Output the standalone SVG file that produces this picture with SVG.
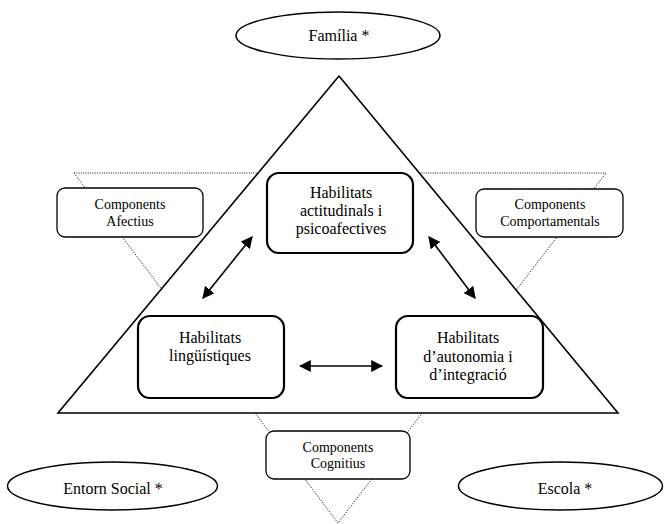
<svg xmlns="http://www.w3.org/2000/svg" width="664" height="524" viewBox="0 0 664 524">
<defs>
<style>
text{font-family:"Liberation Serif","Times New Roman",serif;fill:#000;text-anchor:middle}
.big{font-size:16px}
.small{font-size:14px}
.ell{fill:#fff;stroke:#000;stroke-width:1.5}
.hab{fill:#fff;stroke:#000;stroke-width:2.2}
.comp{fill:#fff;stroke:#000;stroke-width:1.3}
.dot{fill:none;stroke:#111;stroke-width:1;stroke-dasharray:1 1.3}
.tri{fill:#fff;stroke:#000;stroke-width:1.6}
.arr{stroke:#000;stroke-width:1.6;fill:none;marker-start:url(#ah);marker-end:url(#ah)}
</style>
<marker id="ah" viewBox="0 0 10 10" refX="9" refY="5" markerWidth="7.5" markerHeight="7.5" orient="auto-start-reverse" markerUnits="strokeWidth">
<path d="M0,0 L10,5 L0,10 z" fill="#000"/>
</marker>
</defs>
<rect width="664" height="524" fill="#fff"/>
<g id="background">
<polygon class="dot" points="74,173 606,173 338,523"/>
<polygon class="tri" points="339,76 58,413 618,413"/>
</g>
<g id="familia">
<ellipse class="ell" cx="338" cy="35.5" rx="102" ry="23.5"/>
<text class="big" x="339" y="41">Família *</text>
</g>
<g id="entorn">
<ellipse class="ell" cx="112.5" cy="486" rx="105" ry="24"/>
<text class="big" x="113" y="494">Entorn Social *</text>
</g>
<g id="escola">
<ellipse class="ell" cx="560.5" cy="486" rx="102" ry="24"/>
<text class="big" x="565" y="494">Escola *</text>
</g>
<g id="afectius">
<rect class="comp" x="57" y="188" width="146" height="49" rx="8"/>
<text class="small" x="130" y="209">Components</text>
<text class="small" x="130" y="226">Afectius</text>
</g>
<g id="comportamentals">
<rect class="comp" x="476" y="189" width="147" height="48" rx="8"/>
<text class="small" x="550" y="209">Components</text>
<text class="small" x="550" y="226">Comportamentals</text>
</g>
<g id="cognitius">
<rect class="comp" x="266" y="431" width="144" height="48" rx="8"/>
<text class="small" x="338" y="452">Components</text>
<text class="small" x="338" y="468">Cognitius</text>
</g>
<g id="actitudinals">
<rect class="hab" x="267" y="173" width="146" height="80" rx="12"/>
<text class="big" x="341" y="198">Habilitats</text>
<text class="big" x="341" y="216">actitudinals i</text>
<text class="big" x="341" y="234">psicoafectives</text>
</g>
<g id="linguistiques">
<rect class="hab" x="138" y="316" width="146" height="82" rx="12"/>
<text class="big" x="210" y="343">Habilitats</text>
<text class="big" x="210" y="361">lingüístiques</text>
</g>
<g id="autonomia">
<rect class="hab" x="396" y="316" width="147" height="82" rx="12"/>
<text class="big" x="468" y="343">Habilitats</text>
<text class="big" x="468" y="362">d’autonomia i</text>
<text class="big" x="468" y="380">d’integració</text>
</g>
<g id="connectors">
<line class="arr" x1="252" y1="237" x2="203" y2="298"/>
<line class="arr" x1="429" y1="237" x2="475" y2="298"/>
<line class="arr" x1="300" y1="366" x2="382" y2="366"/>
</g>
</svg>
